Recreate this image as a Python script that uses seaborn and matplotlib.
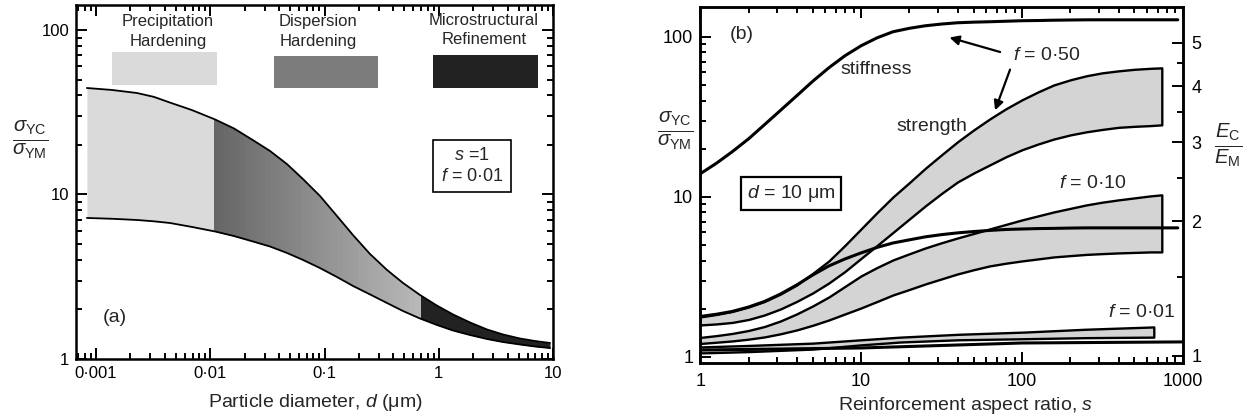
import numpy as np
import pandas as pd
import seaborn as sns
import matplotlib.pyplot as plt
from matplotlib.patches import Rectangle
from matplotlib.ticker import FixedLocator, NullFormatter

# ---------------- panel (a): s = 1, f = 0.01 ----------------
d_um = [8.34e-4, 1.38e-3, 2.285e-3, 3.22e-3, 4.45e-3, 6.92e-3, 0.01101, 0.01615, 0.02366, 0.03334,
        0.0470, 0.0649, 0.0914, 0.1286, 0.1775, 0.250, 0.352, 0.486, 0.685, 0.965,
        1.333, 1.877, 2.645, 3.65, 5.14, 6.96, 9.41]
a_upper = [44.4, 43.2, 41.4, 39.2, 36.2, 32.6, 28.6, 25.2, 21.4, 18.4,
           15.3, 12.4, 9.79, 7.40, 5.67, 4.35, 3.48, 2.90, 2.45, 2.11,
           1.865, 1.667, 1.511, 1.409, 1.332, 1.286, 1.251]
a_lower = [7.20, 7.12, 7.00, 6.87, 6.71, 6.35, 5.96, 5.59, 5.18, 4.83,
           4.41, 4.00, 3.57, 3.15, 2.78, 2.47, 2.19, 1.958, 1.763, 1.609,
           1.490, 1.399, 1.323, 1.268, 1.225, 1.191, 1.166]
regime_names = ["Precipitation\nHardening", "Dispersion\nHardening", "Microstructural\nRefinement"]
regime_edges = [8.34e-4, 0.0108, 0.68, 9.41]
a_xticks = [0.001, 0.01, 0.1, 1, 10]
a_xlabels = ["0·001", "0·01", "0·1", "1", "10"]

# ---------------- panel (b): d = 10 um ----------------
s_read = [1, 1.26, 1.58, 2.0, 2.51, 3.16, 3.98, 5.01, 6.31, 7.94, 10, 12.6, 15.8, 20, 25.1,
          31.6, 39.8, 50.1, 63.1, 79.4, 100, 126, 158, 200, 251, 316, 398, 501, 631]
s_band = s_read + [740]
s_stiff = s_read + [930]

# strength bands, sigma_YC / sigma_YM
f50_hi = [1.778, 1.843, 1.924, 2.054, 2.223, 2.476, 2.818, 3.33, 3.98, 4.98, 6.31, 8.00, 10.0, 12.3, 15.1,
          18.3, 22.1, 26.2, 30.7, 35.5, 40.4, 45.3, 50.1, 53.9, 57.1, 59.6, 61.3, 62.7, 63.6, 64.0]
f50_lo = [1.585, 1.608, 1.643, 1.715, 1.83, 1.995, 2.223, 2.512, 2.90, 3.42, 4.13, 4.98, 6.00, 7.29, 8.79,
          10.5, 12.4, 14.1, 15.85, 17.8, 19.7, 21.4, 23.0, 24.4, 25.5, 26.4, 27.2, 27.6, 27.9, 28.2]
f10_hi = [1.324, 1.359, 1.402, 1.464, 1.55, 1.679, 1.857, 2.084, 2.371, 2.758, 3.209, 3.626, 4.04, 4.416, 4.80,
          5.17, 5.54, 5.91, 6.31, 6.73, 7.18, 7.61, 8.06, 8.48, 8.91, 9.27, 9.58, 9.86, 10.15, 10.3]
f10_lo = [1.214, 1.236, 1.259, 1.292, 1.334, 1.396, 1.475, 1.578, 1.703, 1.857, 2.024, 2.223, 2.441, 2.642, 2.859,
          3.073, 3.302, 3.508, 3.706, 3.852, 3.981, 4.098, 4.217, 4.297, 4.372, 4.422, 4.467, 4.499, 4.532, 4.532]
s_f01 = [1, 2, 5, 10, 17.6, 40, 103, 250, 660]
f01_hi = [1.155, 1.18, 1.22, 1.28, 1.33, 1.385, 1.43, 1.49, 1.54]
f01_lo = [1.06, 1.08, 1.12, 1.19, 1.24, 1.28, 1.30, 1.32, 1.33]

# stiffness, E_C / E_M (right hand axis)
stiff50 = [2.549, 2.690, 2.854, 3.051, 3.280, 3.532, 3.805, 4.101, 4.395, 4.674, 4.920, 5.127, 5.288, 5.383, 5.453,
           5.501, 5.538, 5.555, 5.567, 5.581, 5.596, 5.602, 5.611, 5.617, 5.622, 5.623, 5.623, 5.623, 5.623, 5.623]
stiff10 = [1.225, 1.239, 1.257, 1.286, 1.323, 1.375, 1.440, 1.516, 1.588, 1.646, 1.698, 1.747, 1.787, 1.816, 1.844,
           1.865, 1.882, 1.895, 1.906, 1.915, 1.920, 1.924, 1.926, 1.929, 1.931, 1.931, 1.931, 1.931, 1.931, 1.931]
s_stiff01 = [1, 10, 100, 1000]
stiff01 = [1.031, 1.042, 1.069, 1.075]

b_xticks = [1, 10, 100, 1000]
e_ticks = [1, 2, 3, 4, 5]
e_minor = [1.5, 2.5, 3.5, 4.5]


def style_ticks(ax, size, **sides):
    ax.tick_params(which="both", direction="in", width=1.4, colors="black", labelsize=size, **sides)
    ax.tick_params(which="major", length=8)
    ax.tick_params(which="minor", length=4)
    for sp in ax.spines.values():
        sp.set_linewidth(1.8)
        sp.set_color("black")


def clipped_band(ax, x, lo, hi, x0, x1, col):
    band = ax.fill_between(x, lo, hi, color=col, lw=0)
    band.set_clip_path(Rectangle((x0, 0.5), x1 - x0, 500, transform=ax.transData))


def main():
    sns.set_theme(style="ticks")
    plt.rcParams['font.family'] = ['Liberation Sans', 'DejaVu Sans']
    plt.rcParams['mathtext.fontset'] = 'custom'
    plt.rcParams['mathtext.rm'] = 'Liberation Sans'
    plt.rcParams['mathtext.it'] = 'Liberation Sans:italic'
    plt.rcParams['mathtext.bf'] = 'Liberation Sans:bold'

    fig = plt.figure(figsize=(12.57, 4.19), dpi=100)
    ax_a = fig.add_axes([0.0605, 0.1432, 0.3795, 0.845])
    ax_b = fig.add_axes([0.557, 0.1337, 0.384, 0.850])

    ###### panel (a) ##########################################
    df_a = pd.DataFrame({"d": d_um, "upper": a_upper, "lower": a_lower})
    ax_a.set_xscale("log")
    ax_a.set_yscale("log")
    key_cols = ["#dadada", "#7c7c7c", "#222222"]
    # precipitation (light) and microstructural refinement (dark)
    clipped_band(ax_a, df_a["d"], df_a["lower"], df_a["upper"], regime_edges[0], regime_edges[1], key_cols[0])
    clipped_band(ax_a, df_a["d"], df_a["lower"], df_a["upper"], regime_edges[2], regime_edges[3], key_cols[2])
    # dispersion hardening: dark next to 0.01 um, fading towards the refinement regime
    steps = np.geomspace(regime_edges[1], regime_edges[2], 41)
    greys = np.linspace(0.40, 0.72, 40)
    for x0, x1, g in zip(steps[:-1], steps[1:], greys):
        clipped_band(ax_a, df_a["d"], df_a["lower"], df_a["upper"], x0, x1 * 1.01, str(g))
    sns.lineplot(data=df_a, x="d", y="upper", ax=ax_a, color="black", lw=1.3, sort=False, estimator=None)
    sns.lineplot(data=df_a, x="d", y="lower", ax=ax_a, color="black", lw=1.3, sort=False, estimator=None)

    ax_a.set_xlim(6.7e-4, 10)
    ax_a.set_ylim(1, 142)
    ax_a.set_xticks(a_xticks, a_xlabels)
    ax_a.set_yticks([1, 10, 100], ["1", "10", "100"])
    ax_a.yaxis.set_minor_formatter(NullFormatter())
    ax_a.xaxis.set_minor_formatter(NullFormatter())
    ax_a.set_xlabel("")
    ax_a.set_ylabel("")
    style_ticks(ax_a, 12, top=True, right=True)
    ax_a.tick_params(axis="x", pad=5)
    ax_a.tick_params(axis="y", pad=5)

    # regime keys across the top
    key_x = [(0.075, 0.296), (0.415, 0.633), (0.748, 0.969)]
    key_y = [(0.774, 0.867), (0.766, 0.856), (0.766, 0.859)]
    text_x = [0.193, 0.507, 0.855]
    text_y = [0.925, 0.925, 0.930]
    for name, (x0, x1), (y0, y1), tx, ty, col in zip(regime_names, key_x, key_y, text_x, text_y, key_cols):
        ax_a.add_patch(Rectangle((x0, y0), x1 - x0, y1 - y0, transform=ax_a.transAxes,
                                 facecolor=col, edgecolor="none"))
        ax_a.text(tx, ty, name, transform=ax_a.transAxes, ha="center", va="center",
                  fontsize=12, linespacing=1.35)

    ax_a.text(0.830, 0.545, "$s$ =1\n$f$ = 0·01", transform=ax_a.transAxes, ha="center", va="center",
              fontsize=13, linespacing=1.3,
              bbox=dict(boxstyle="square,pad=0.4", facecolor="white", edgecolor="black", lw=1.2))
    ax_a.text(0.081, 0.116, "(a)", transform=ax_a.transAxes, ha="center", va="center", fontsize=14)

    fig.text(0.2506, 0.040, "Particle diameter, $d$ (μm)", ha="center", va="center", fontsize=14)
    fig.text(0.0239, 0.666, r"$\frac{\sigma_{\rm YC}}{\sigma_{\rm YM}}$", ha="center", va="center", fontsize=21)

    ###### panel (b) ##########################################
    ax_b.set_xscale("log")
    ax_b.set_yscale("log")
    for s_vals, lo, hi in [(s_band, f50_lo, f50_hi), (s_band, f10_lo, f10_hi), (s_f01, f01_lo, f01_hi)]:
        ax_b.fill_between(s_vals, lo, hi, facecolor="#d4d4d4", edgecolor="black", lw=1.7)

    ax_b.set_xlim(1, 1000)
    ax_b.set_ylim(0.917, 154)
    ax_b.set_xticks(b_xticks, [str(v) for v in b_xticks])
    ax_b.set_yticks([1, 10, 100], ["1", "10", "100"])
    ax_b.yaxis.set_minor_formatter(NullFormatter())
    ax_b.xaxis.set_minor_formatter(NullFormatter())
    style_ticks(ax_b, 13, top=True, right=False)
    ax_b.tick_params(axis="x", pad=7)
    ax_b.tick_params(axis="y", pad=5)

    ax_e = ax_b.twinx()
    ax_e.set_yscale("log")
    for s_vals, e_vals in [(s_stiff, stiff50), (s_stiff, stiff10), (s_stiff01, stiff01)]:
        sns.lineplot(x=s_vals, y=e_vals, ax=ax_e, color="black", lw=2.2, sort=False, estimator=None)
    ax_e.set_ylim(0.9647, 6.01)
    ax_e.set_xlim(1, 1000)
    ax_e.set_yticks(e_ticks, [str(v) for v in e_ticks])
    ax_e.yaxis.set_minor_locator(FixedLocator(e_minor))
    ax_e.yaxis.set_minor_formatter(NullFormatter())
    style_ticks(ax_e, 13, left=False, right=True)
    ax_e.tick_params(axis="y", pad=6)

    txt = dict(transform=ax_b.transAxes, ha="center", va="center", fontsize=14)
    ax_b.text(0.087, 0.921, "(b)", **txt)
    ax_b.text(0.364, 0.823, "stiffness", **txt)
    ax_b.text(0.480, 0.663, "strength", **txt)
    ax_b.text(0.718, 0.862, "$f$ = 0·50", **txt)
    ax_b.text(0.814, 0.503, "$f$ = 0·10", **txt)
    ax_b.text(0.915, 0.143, "$f$ = 0·01", **txt)
    ax_b.text(0.188, 0.476, "$d$ = 10 μm", transform=ax_b.transAxes, ha="center", va="center", fontsize=14,
              bbox=dict(boxstyle="square,pad=0.3", facecolor="white", edgecolor="black", lw=1.6))
    arrow = dict(arrowstyle="-|>", color="black", lw=1.6, mutation_scale=14)
    ax_b.annotate("", xy=(0.511, 0.916), xytext=(0.627, 0.871), xycoords="axes fraction", arrowprops=arrow)
    ax_b.annotate("", xy=(0.609, 0.702), xytext=(0.644, 0.831), xycoords="axes fraction", arrowprops=arrow)

    fig.text(0.768, 0.033, "Reinforcement aspect ratio, $s$", ha="center", va="center", fontsize=14)
    fig.text(0.537, 0.687, r"$\frac{\sigma_{\rm YC}}{\sigma_{\rm YM}}$", ha="center", va="center", fontsize=21)
    fig.text(0.977, 0.654, r"$\frac{E_{\rm C}}{E_{\rm M}}$", ha="center", va="center", fontsize=21)

    fig.savefig("out.png", dpi=100)


if __name__ == '__main__':
    main()
